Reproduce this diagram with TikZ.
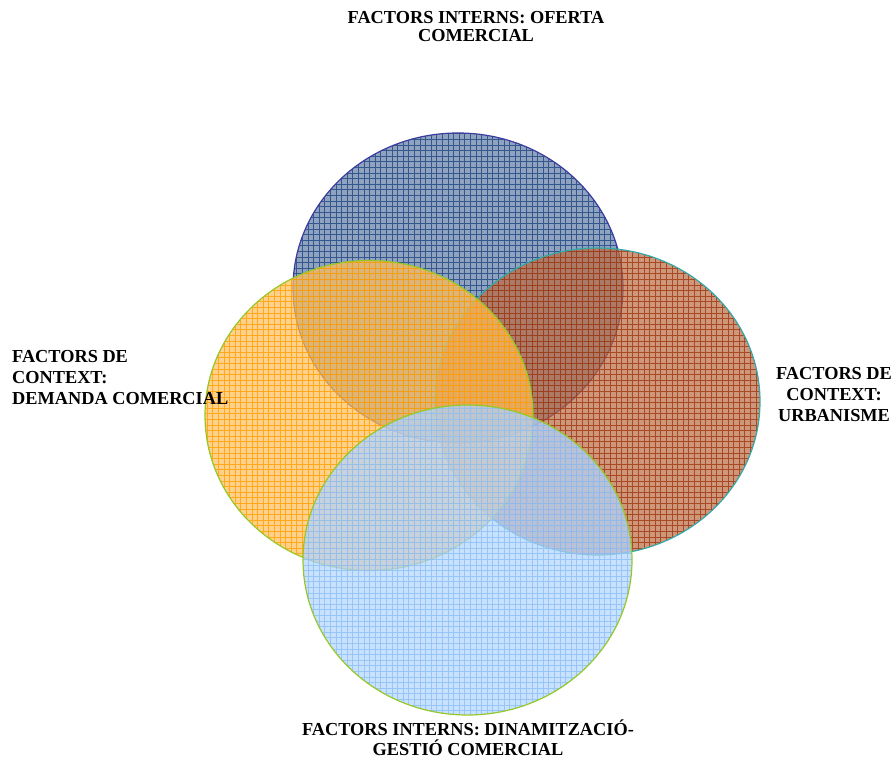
\documentclass[tikz,border=0pt]{standalone}
\usepackage{fontspec}
\setmainfont{Liberation Serif}
\usetikzlibrary{positioning}

\definecolor{ofertafill}{RGB}{95,124,165}
\definecolor{ofertaline}{RGB}{30,70,130}
\definecolor{ofertaedge}{RGB}{60,60,160}
\definecolor{urbafill}{RGB}{185,105,65}
\definecolor{urbaline}{RGB}{160,55,15}
\definecolor{urbaedge}{RGB}{50,170,170}
\definecolor{demandafill}{RGB}{255,190,90}
\definecolor{demandaline}{RGB}{255,160,0}
\definecolor{dinamfill}{RGB}{177,212,255}
\definecolor{dinamline}{RGB}{140,190,245}
\definecolor{limeedge}{RGB}{150,200,40}

\tikzset{
  label text/.style={font=\bfseries\fontsize{18.3}{21}\selectfont, align=center, inner sep=0pt},
  venn fill/.style={fill=#1, fill opacity=0.7},
  venn grid/.style={draw=#1, line width=0.75pt, draw opacity=0.8},
  venn edge/.style={draw=#1, line width=1.2pt}
}

\begin{document}
\begin{tikzpicture}[x=1pt, y=1pt]
		\useasboundingbox (0,0) rectangle (896,761);
		% oferta comercial
		\begin{scope}
			\clip (458,473) ellipse (165 and 155);
			\fill[venn fill=ofertafill] (458,473) ellipse (165 and 155);
			\draw[venn grid=ofertaline, step=5.6] (290,315) grid (626,631);
		\end{scope}
		\draw[venn edge=ofertaedge] (458,473) ellipse (165 and 155);
		% urbanisme
		\begin{scope}
			\clip (597.5,359.5) ellipse (162.5 and 153.5);
			\fill[venn fill=urbafill] (597.5,359.5) ellipse (162.5 and 153.5);
			\draw[venn grid=urbaline, step=5.6] (432,203) grid (763,516);
		\end{scope}
		\draw[venn edge=urbaedge] (597.5,359.5) ellipse (162.5 and 153.5);
		% demanda comercial
		\begin{scope}
			\clip (369,345.5) ellipse (164 and 155);
			\fill[venn fill=demandafill] (369,345.5) ellipse (164 and 155);
			\draw[venn grid=demandaline, step=5.6] (202,188) grid (536,503);
		\end{scope}
		\draw[venn edge=limeedge] (369,345.5) ellipse (164 and 155);
		% dinamitzacio
		\begin{scope}
			\clip (467.5,201) ellipse (164.5 and 155);
			\fill[venn fill=dinamfill] (467.5,201) ellipse (164.5 and 155);
			\draw[venn grid=dinamline, step=5.6] (300,43) grid (635,359);
		\end{scope}
		\draw[venn edge=limeedge] (467.5,201) ellipse (164.5 and 155);
		% labels
		\node[label text, font=\bfseries\fontsize{18.3}{18}\selectfont] (oferta) at (476,734) {FACTORS INTERNS: OFERTA\\COMERCIAL};
		\node[label text, align=left, anchor=west] (demanda) at (12,383) {FACTORS DE\\CONTEXT:\\DEMANDA COMERCIAL};
		\node[label text] (urbanisme) at (834,366) {FACTORS DE\\CONTEXT:\\URBANISME};
		\node[label text, font=\bfseries\fontsize{18.3}{20}\selectfont] (dinam) at (468,23) {FACTORS INTERNS: DINAMITZACIÓ-\\GESTIÓ COMERCIAL};
	\end{tikzpicture}
\end{document}
